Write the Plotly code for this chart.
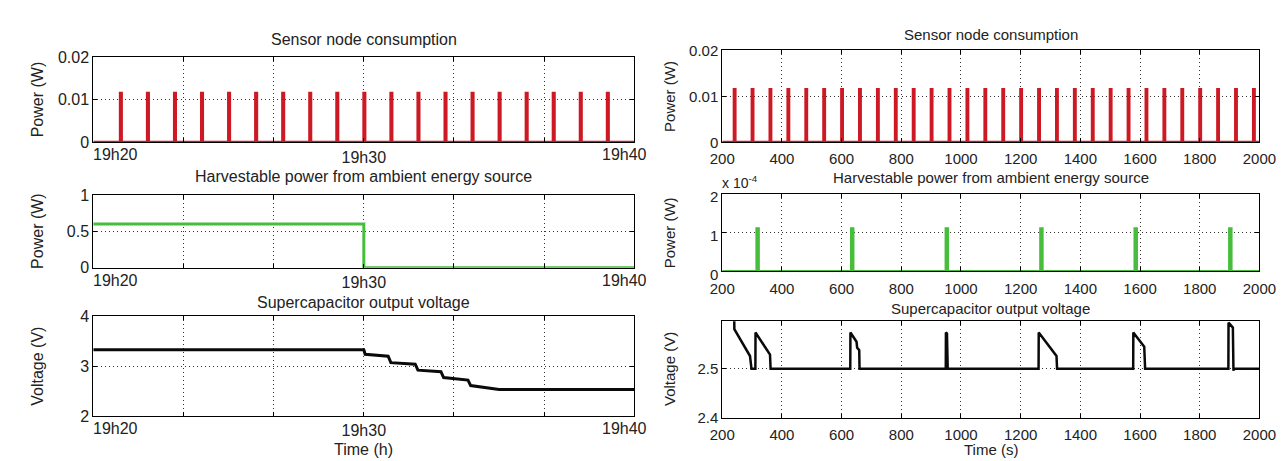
import plotly.graph_objects as go

W, H = 1286, 461

# ---------------- data: left column (minutes after 19h20) ----------------
left_spike_min = [1, 2, 3, 4, 5, 6, 7, 8, 9, 10, 11, 12, 13, 14, 15, 16, 17, 18, 19]
left_spike_power = 0.0115
left_harvest_t = [0, 10, 10, 20]
left_harvest_p = [0.6, 0.6, 0.0, 0.0]
left_volt_t = [0, 10.0, 10.05, 10.9, 11.0, 11.9, 12.0, 12.85, 12.95, 13.85, 13.95, 14.95, 15.0, 20]
left_volt_v = [3.33, 3.33, 3.24, 3.20, 3.07, 3.04, 2.92, 2.89, 2.77, 2.72, 2.61, 2.54, 2.53, 2.53]
left_grid_vals = [0, 10 / 3, 20 / 3, 10, 40 / 3, 50 / 3, 20]
left_xtick_vals = [0, 10, 20]
left_xtick_text = ["19h20", "19h30", "19h40"]

# ---------------- data: right column (seconds) ----------------
right_spike_s = [240, 300, 360, 420, 480, 540, 600, 660, 720, 780, 840, 900, 960, 1020, 1080,
                 1140, 1200, 1260, 1320, 1380, 1440, 1500, 1560, 1620, 1680, 1740, 1800, 1860,
                 1920, 1980]
right_spike_power = 0.0115
right_harvest_s = [316, 633, 950, 1267, 1583, 1900]
right_harvest_power = 1.1e-4
right_volt_t = [200, 240, 240.5, 293, 298, 311, 311.5, 360, 362, 629, 629.5, 650, 652, 659, 660,
                949, 949.5, 953, 955.5, 1260, 1260.5, 1320, 1322, 1577, 1577.5, 1614, 1617,
                1896, 1896.5, 1911, 1913, 1914, 2000]
right_volt_v = [2.62, 2.62, 2.581, 2.526, 2.5, 2.5, 2.574, 2.529, 2.5, 2.5, 2.574, 2.555, 2.543,
                2.538, 2.5, 2.5, 2.574, 2.572, 2.5, 2.5, 2.574, 2.526, 2.5, 2.5, 2.574, 2.545,
                2.5, 2.5, 2.594, 2.584, 2.496, 2.5, 2.5]
right_xtick_vals = [200, 400, 600, 800, 1000, 1200, 1400, 1600, 1800, 2000]

RED = "rgb(205,25,35)"
GREEN = "rgb(70,190,60)"
BLACK = "rgb(10,10,10)"
FONT = "Liberation Sans, Arial, sans-serif"
TXT = "#222"


def pulses(times, amp, width, x0, x1):
    xs, ys = [x0], [0]
    for t in times:
        xs += [t, t, t + width, t + width]
        ys += [0, amp, amp, 0]
    xs.append(x1)
    ys.append(0)
    return xs, ys


def xdom(a, b):
    return [a / W, b / W]


def ydom(top, bottom):
    return [1 - bottom / H, 1 - top / H]


fig = go.Figure()

lx, ly = pulses(left_spike_min, left_spike_power, 0.04, 0, 20)
fig.add_trace(go.Scatter(x=lx, y=ly, mode="lines", line=dict(color=RED, width=3),
                         xaxis="x", yaxis="y", showlegend=False))
fig.add_trace(go.Scatter(x=left_harvest_t, y=left_harvest_p, mode="lines",
                         line=dict(color=GREEN, width=3), xaxis="x2", yaxis="y2", showlegend=False))
fig.add_trace(go.Scatter(x=left_volt_t, y=left_volt_v, mode="lines",
                         line=dict(color=BLACK, width=3), xaxis="x3", yaxis="y3", showlegend=False))

rx, ry = pulses(right_spike_s, right_spike_power, 3, 200, 2000)
fig.add_trace(go.Scatter(x=rx, y=ry, mode="lines", line=dict(color=RED, width=3),
                         xaxis="x4", yaxis="y4", showlegend=False))
hx, hy = pulses(right_harvest_s, right_harvest_power, 5, 200, 2000)
fig.add_trace(go.Scatter(x=hx, y=hy, mode="lines", line=dict(color=GREEN, width=3),
                         xaxis="x5", yaxis="y5", showlegend=False))
fig.add_trace(go.Scatter(x=right_volt_t, y=right_volt_v, mode="lines",
                         line=dict(color=BLACK, width=2.5), xaxis="x6", yaxis="y6", showlegend=False))

GRID = dict(showgrid=True, gridcolor="#333", griddash="1px,3px", gridwidth=1)


def ax(dom, rng, tickvals, ticktext=None, anchor=None, size=16, minor_vals=None):
    d = dict(domain=dom, range=rng, tickvals=tickvals, showline=True, linecolor="black",
             linewidth=1, mirror="ticks", ticks="inside", ticklen=4, tickcolor="black",
             zeroline=False,
             tickfont=dict(family=FONT, size=size, color=TXT), anchor=anchor, fixedrange=True,
             **GRID)
    if ticktext is not None:
        d["ticktext"] = ticktext
    if minor_vals is not None:
        d["minor"] = dict(tickmode="array", tickvals=minor_vals, ticks="inside", ticklen=4,
                          tickcolor="black", **GRID)
    return d


LX = xdom(74, 628)
RX = xdom(718, 1268)
rows_left = [(42, 131), (186, 262), (313, 417)]
rows_right = [(35, 131), (185, 266), (318, 419)]

layout = dict(
    width=W, height=H, margin=dict(l=0, r=0, t=0, b=0),
    paper_bgcolor="white", plot_bgcolor="white", showlegend=False,
    font=dict(family=FONT, color=TXT),
)
# left column: 19h30 as axis tick label, 19h20 / 19h40 placed as edge labels below
for i, yname in enumerate(["y", "y2", "y3"]):
    xn = "xaxis" if i == 0 else f"xaxis{i + 1}"
    layout[xn] = ax(LX, [0, 20], [10], ["19h30"], yname, 16, left_grid_vals)
layout["yaxis"] = ax(ydom(*rows_left[0]), [0, 0.02], [0, 0.01, 0.02], ["0", "0.01", "0.02"], "x")
layout["yaxis2"] = ax(ydom(*rows_left[1]), [0, 1], [0, 0.5, 1], ["0", "0.5", "1"], "x2")
layout["yaxis3"] = ax(ydom(*rows_left[2]), [2, 4], [2, 3, 4], ["2", "3", "4"], "x3")

layout["xaxis4"] = ax(RX, [200, 2000], right_xtick_vals, None, "y4", 15)
layout["yaxis4"] = ax(ydom(*rows_right[0]), [0, 0.02], [0, 0.01, 0.02], ["0", "0.01", "0.02"], "x4", 15)
layout["xaxis5"] = ax(RX, [200, 2000], right_xtick_vals, None, "y5", 15)
layout["yaxis5"] = ax(ydom(*rows_right[1]), [0, 2e-4], [0, 1e-4, 2e-4], ["0", "1", "2"], "x5", 15)
layout["xaxis6"] = ax(RX, [200, 2000], right_xtick_vals, None, "y6", 15)
layout["yaxis6"] = ax(ydom(*rows_right[2]), [2.4, 2.597], [2.4, 2.5], ["2.4", "2.5"], "x6", 15)
layout["xaxis4"]["ticklabelstandoff"] = 3
layout["xaxis5"]["ticklabelstandoff"] = 4
layout["xaxis6"]["ticklabelstandoff"] = 3
layout["yaxis5"]["ticklabelshift"] = 3

fig.update_layout(**layout)


def note(text, px, py, size=16, angle=0, xanchor="center"):
    fig.add_annotation(text=text, x=px / W, y=1 - py / H, xref="paper", yref="paper",
                       showarrow=False, textangle=angle, xanchor=xanchor, yanchor="middle",
                       font=dict(family=FONT, size=size, color=TXT))


# 19h20 / 19h40 edge tick labels of the left column (anchored on the x scale)
for i, row in enumerate(rows_left):
    xr = "x" if i == 0 else f"x{i + 1}"
    ylab = 1 - (row[1] + 13) / H
    fig.add_annotation(text=left_xtick_text[0], x=left_xtick_vals[0], xref=xr, y=ylab, yref="paper",
                       showarrow=False, xanchor="left", yanchor="middle", xshift=-2,
                       font=dict(family=FONT, size=16, color=TXT))
    fig.add_annotation(text=left_xtick_text[2], x=left_xtick_vals[2], xref=xr, y=ylab, yref="paper",
                       showarrow=False, xanchor="center", yanchor="middle", xshift=-10,
                       font=dict(family=FONT, size=16, color=TXT))

lc = (74 + 628) / 2
rc = (718 + 1268) / 2
note("Sensor node consumption", lc, 24)
note("Harvestable power from ambient energy source", lc, 167)
note("Supercapacitor output voltage", lc, 298)
note("Time (h)", lc, 452)
note("Power (W)", 17, (rows_left[0][0] + rows_left[0][1]) / 2, angle=-90)
note("Power (W)", 17, (rows_left[1][0] + rows_left[1][1]) / 2, angle=-90)
note("Voltage (V)", 17, (rows_left[2][0] + rows_left[2][1]) / 2, angle=-90)

note("Sensor node consumption", rc, 18, 15)
note("Harvestable power from ambient energy source", rc, 168, 15)
note("Supercapacitor output voltage", rc, 305, 15)
note("Time (s)", rc, 452, 15)
note("Power (W)", 664, (rows_right[0][0] + rows_right[0][1]) / 2, 15, -90)
note("Power (W)", 664, (rows_right[1][0] + rows_right[1][1]) / 2, 15, -90)
note("Voltage (V)", 664, (rows_right[2][0] + rows_right[2][1]) / 2, 15, -90)
note("x 10<sup>-4</sup>", 716, 172, 14, xanchor="left")

fig.write_html("out.html")
